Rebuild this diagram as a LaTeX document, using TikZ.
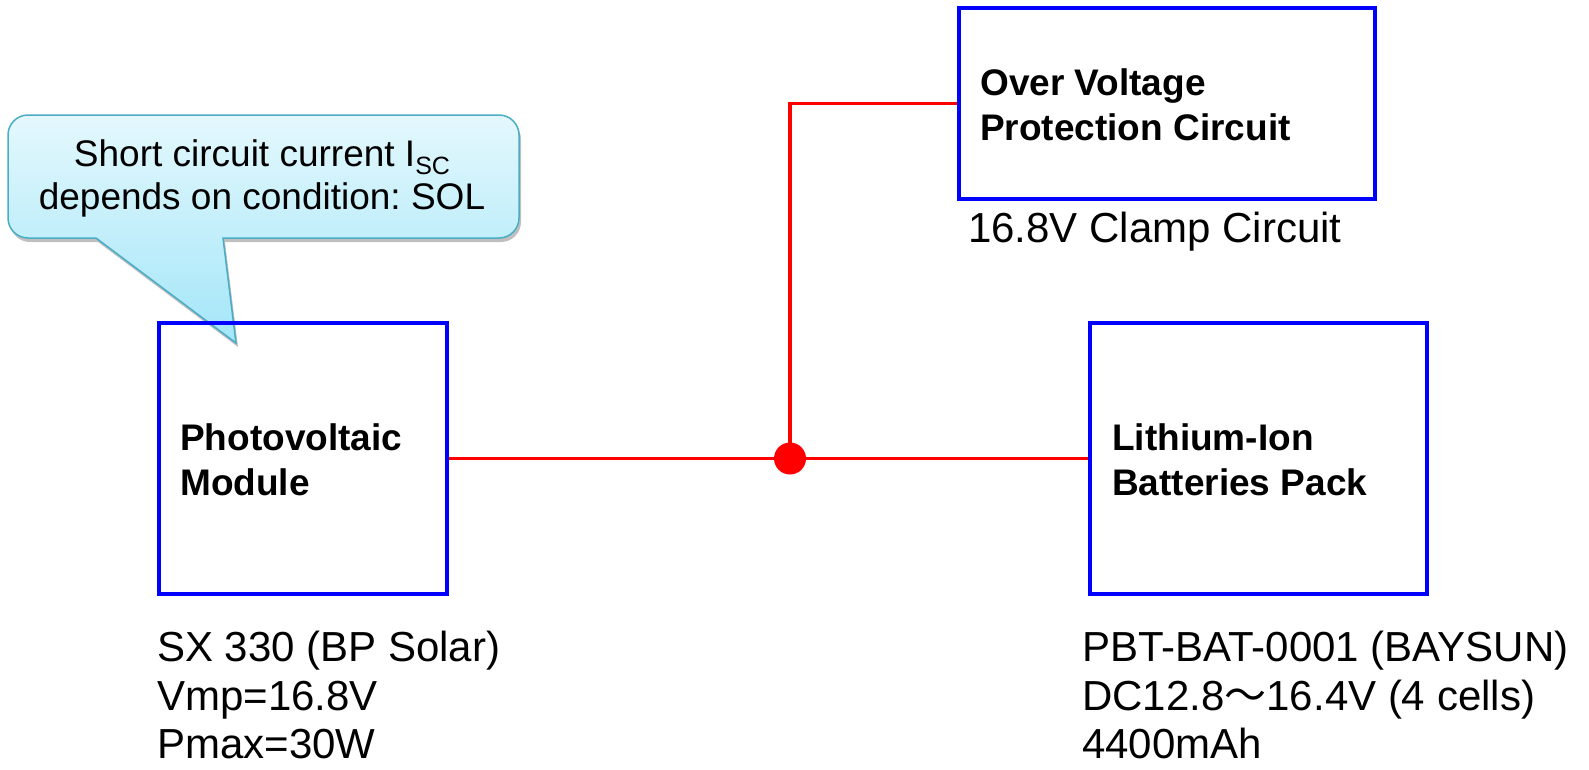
\documentclass[tikz,border=0pt]{standalone}
\usepackage{fontspec}
\setmainfont{Liberation Sans}
\newfontfamily\cjkfont{Noto Sans CJK JP}
\usetikzlibrary{shadows}
\frenchspacing
\definecolor{boxblue}{HTML}{0000FF}
\definecolor{wirered}{HTML}{FF0000}
\definecolor{calloutborder}{HTML}{4BACC6}
\definecolor{callouttop}{HTML}{E4F8FD}
\definecolor{calloutbottom}{HTML}{A3E6F8}
\begin{document}
\begin{tikzpicture}[x=1pt,y=-1pt,
  blockbox/.style={draw=boxblue, line width=3.5pt, inner sep=0pt},
  wire/.style={draw=wirered, line width=3.5pt},
  boldlbl/.style={anchor=west, align=left, inner sep=0pt, font=\bfseries\fontsize{37}{44.6}\selectfont},
  plainlbl/.style={anchor=west, align=left, inner sep=0pt, font=\fontsize{42}{48.6}\selectfont},
  notelbl/.style={align=center, inner sep=0pt, font=\fontsize{37}{43}\selectfont}]
\useasboundingbox (0,0) rectangle (1589,769);

% callout
\path[draw=calloutborder, line width=1.5pt, top color=callouttop, bottom color=calloutbottom,
  drop shadow={shadow xshift=2pt, shadow yshift=-4pt, opacity=0.25, fill=black},
  rounded corners=20pt]
  (8,180) -- (8,115) -- (519,115) -- (519,238) -- (300,238) [sharp corners] -- (223,238)
  -- (236,343) -- (96,238) -- (60,238) [rounded corners=20pt] -- (8,238) -- cycle;
\node[notelbl] (note) at (262,178.5) {Short circuit current I\raisebox{-0.22em}{\fontsize{25}{25}\selectfont SC}\\depends on condition: SOL};

% boxes
\node[blockbox, minimum width=288pt, minimum height=271pt] (pv) at (303,458.5) {};
\node[blockbox, minimum width=416pt, minimum height=191pt] (ovp) at (1167,103.5) {};
\node[blockbox, minimum width=337pt, minimum height=271pt] (li) at (1258.5,458.5) {};

\node[boldlbl] (pvt) at (180,460) {Photovoltaic\\Module};
\node[boldlbl] (ovpt) at (980,104.5) {Over Voltage\\Protection Circuit};
\node[boldlbl] (lit) at (1112,460) {Lithium-Ion\\Batteries Pack};

% wires
\coordinate (j) at (790,458.5);
\draw[wire] (pv.east) -- (j) -- (li.west);
\draw[wire] (j) |- (ovp.west);
\fill[wirered] (j) circle[radius=16pt];

% labels
\node[plainlbl] (clamp) at (968,232) {16.8V Clamp Circuit};
\node[plainlbl] (pvspec) at (157,695) {SX 330 (BP Solar)\\Vmp=16.8V\\Pmax=30W};
\node[plainlbl] (lispec) at (1082,695) {PBT-BAT-0001 (BAYSUN)\\DC12.8{\cjkfont ～}16.4V (4 cells)\\4400mAh};
\end{tikzpicture}
\end{document}
